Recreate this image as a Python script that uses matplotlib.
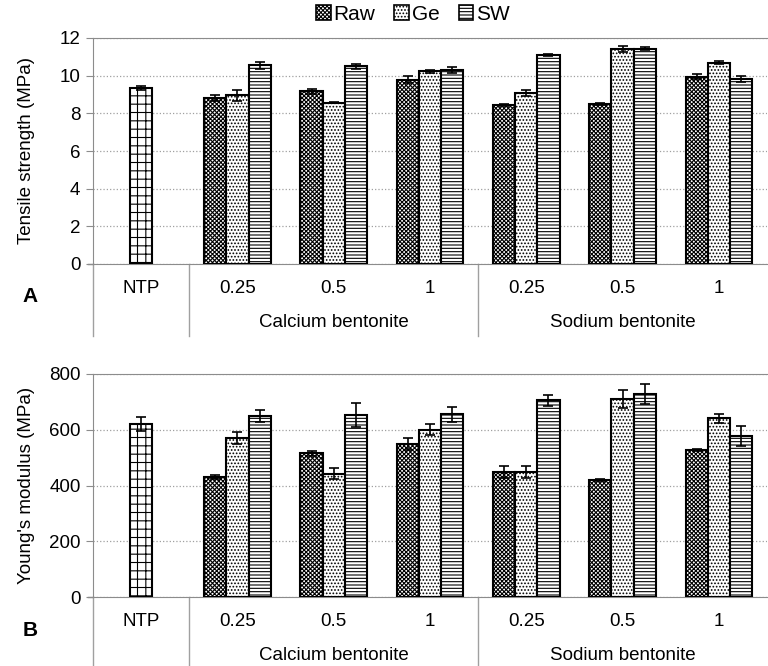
import matplotlib.pyplot as plt
import matplotlib.patches as mpatches
import numpy as np

plt.rcParams['font.family'] = ['Liberation Sans', 'DejaVu Sans']
plt.rcParams['hatch.linewidth'] = 0.8

cats = ['NTP', '0.25', '0.5', '1', '0.25', '0.5', '1']
groups = ['Calcium bentonite', 'Sodium bentonite']

ntp_ts, ntp_ts_err = 9.34, 0.1
raw_ts = [8.81, 9.17, 9.79, 8.44, 8.51, 9.95]
raw_ts_err = [0.18, 0.13, 0.2, 0.05, 0.05, 0.14]
ge_ts = [8.95, 8.56, 10.23, 9.06, 11.42, 10.69]
ge_ts_err = [0.27, 0.03, 0.07, 0.16, 0.18, 0.08]
sw_ts = [10.55, 10.5, 10.3, 11.12, 11.44, 9.84]
sw_ts_err = [0.2, 0.13, 0.14, 0.05, 0.08, 0.16]

ntp_ym, ntp_ym_err = 620, 26
raw_ym = [431, 515, 550, 448, 419, 527]
raw_ym_err = [6, 8, 22, 21, 4, 5]
ge_ym = [570, 442, 600, 448, 711, 641]
ge_ym_err = [22, 19, 19, 21, 33, 17]
sw_ym = [650, 654, 655, 705, 729, 577]
sw_ym_err = [22, 43, 28, 21, 35, 36]

fig = plt.figure(figsize=(7.68, 6.66), dpi=100)
W, H = 768, 666
ax1 = fig.add_axes([93 / W, 1 - 264 / H, (767 - 93) / W, 226 / H])
ax2 = fig.add_axes([93 / W, 1 - 597 / H, (767 - 93) / W, 223 / H])

hatches = ['xxxxxxxx', '.....', '-----']
w = 0.23
ekw = dict(ecolor='black', elinewidth=1.2, capsize=3.5, capthick=1.2)
grey = '#8c8c8c'
fs = 13.5


def draw(ax, ntp, ntp_err, series, errs, ymax, step, ylabel, letter, axh):
    x = np.arange(1, 7)
    ax.bar(0, ntp, w, yerr=ntp_err, color='white', edgecolor='black',
           hatch='++', linewidth=1.5, error_kw=ekw, zorder=3)
    for i, (vals, er) in enumerate(zip(series, errs)):
        ax.bar(x + (i - 1) * w, vals, w, yerr=er, color='white',
               edgecolor='black', hatch=hatches[i], linewidth=1.5,
               error_kw=ekw, zorder=3)
    ax.set_xlim(-0.5, 6.5)
    ax.set_ylim(0, ymax)
    ax.set_yticks(np.arange(0, ymax + 1, step))
    ax.tick_params(axis='y', labelsize=fs, length=5, color=grey, pad=4)
    ax.set_xticks([])
    ax.yaxis.grid(True, linestyle=':', color='#a0a0a0', linewidth=0.9)
    ax.set_axisbelow(True)
    ax.spines['right'].set_visible(False)
    for s in ['top', 'bottom', 'left']:
        ax.spines[s].set_color(grey)
    ax.set_ylabel(ylabel, fontsize=fs)
    ax.yaxis.set_label_coords(-58 / 674, 0.5)
    tr = ax.get_xaxis_transform()
    d_lab = -25 / axh
    d_grp = -59 / axh
    d_end = -72 / axh
    for i, c in enumerate(cats):
        ax.text(i, d_lab, c, transform=tr, ha='center', va='center',
                fontsize=fs)
    ax.text(2, d_grp, groups[0], transform=tr, ha='center', va='center',
            fontsize=fs)
    ax.text(5, d_grp, groups[1], transform=tr, ha='center', va='center',
            fontsize=fs)
    for xs in [-0.5, 0.5, 3.5]:
        ax.plot([xs, xs], [0, d_end], transform=tr, color='#a0a0a0',
                linewidth=1, clip_on=False)
    ax.plot([-0.5 - 5 / 96.3, -0.5], [0, 0], transform=tr, color=grey,
            linewidth=1, clip_on=False)
    ax.text(-0.5 - 63 / 96.3, -33 / axh, letter, transform=tr,
            ha='center', va='center', fontsize=15, fontweight='bold')


draw(ax1, ntp_ts, ntp_ts_err, [raw_ts, ge_ts, sw_ts],
     [raw_ts_err, ge_ts_err, sw_ts_err], 12, 2,
     'Tensile strength (MPa)', 'A', 226)
draw(ax2, ntp_ym, ntp_ym_err, [raw_ym, ge_ym, sw_ym],
     [raw_ym_err, ge_ym_err, sw_ym_err], 800, 200,
     "Young's modulus (MPa)", 'B', 223)

handles = [mpatches.Patch(facecolor='white', edgecolor='black', hatch=h,
                          linewidth=1.2, label=l)
           for h, l in zip(hatches, ['Raw', 'Ge', 'SW'])]
fig.legend(handles=handles, loc='center', bbox_to_anchor=(413 / W, 1 - 14 / H),
           ncol=3, frameon=False, fontsize=15, handlelength=0.7,
           handleheight=0.7, handletextpad=0.15, columnspacing=0.9)

fig.savefig('out.png', dpi=100)
